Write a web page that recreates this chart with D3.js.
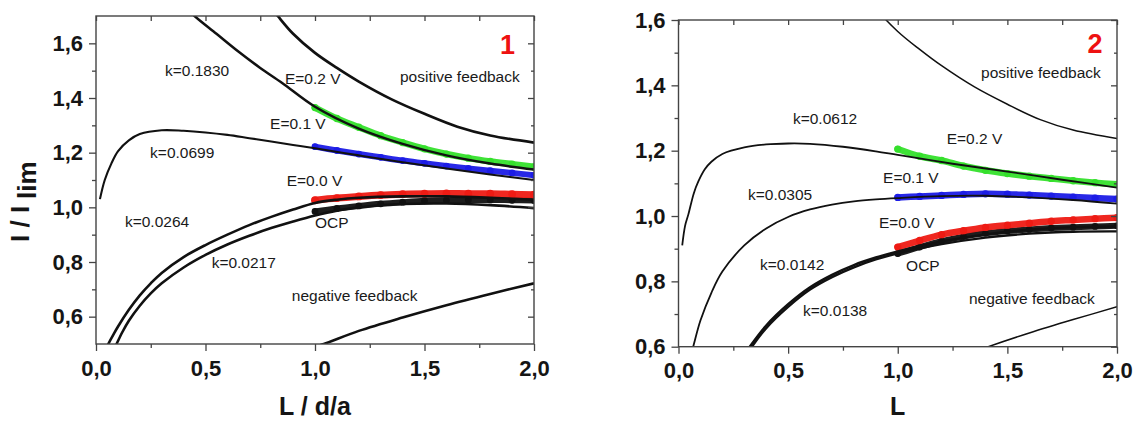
<!DOCTYPE html>
<html><head><meta charset="utf-8">
<script src="https://cdn.jsdelivr.net/npm/d3@7"></script>
<style>
body{margin:0;background:#fff}
svg{display:block}
text{font-family:"Liberation Sans",Arial,sans-serif}
</style>
</head><body>
<svg id="c" width="1142" height="422"></svg>
<script>
// ---------- data ----------
const xMajor = [0, 0.5, 1.0, 1.5, 2.0];
const xMinor = [0.25, 0.75, 1.25, 1.75];
const yMajor1 = [0.6, 0.8, 1.0, 1.2, 1.4, 1.6];
const yMinor1 = [0.7, 0.9, 1.1, 1.3, 1.5];
const yMajor2 = [0.6, 0.8, 1.0, 1.2, 1.4, 1.6];
const yMinor2 = [0.7, 0.9, 1.1, 1.3, 1.5];

// theory curves [L, I/Ilim]
const posFeedback = [[0.78,1.75],[0.83,1.70],[0.9,1.635],[1.0,1.565],[1.1,1.51],[1.2,1.46],[1.35,1.395],[1.5,1.342],[1.65,1.295],[1.8,1.263],[2.0,1.237]];
const negFeedback = [[1.0,0.49],[1.04,0.50],[1.2,0.548],[1.4,0.597],[1.6,0.642],[1.8,0.683],[2.0,0.722]];

const k1830 = [[0.40,1.74],[0.45,1.70],[0.55,1.635],[0.65,1.57],[0.75,1.51],[0.85,1.455],[1.0,1.368],[1.2,1.288],[1.4,1.232],[1.6,1.19],[1.8,1.16],[2.0,1.138]];
const k0699 = [[0.018,1.03],[0.04,1.10],[0.07,1.16],[0.1,1.205],[0.15,1.245],[0.2,1.268],[0.3,1.282],[0.4,1.28],[0.5,1.274],[0.6,1.265],[0.7,1.253],[0.8,1.241],[0.9,1.228],[1.0,1.216],[1.2,1.19],[1.4,1.165],[1.6,1.142],[1.8,1.12],[2.0,1.10]];
const k0264 = [[0.045,0.483],[0.056,0.50],[0.08,0.535],[0.1,0.563],[0.15,0.625],[0.2,0.678],[0.25,0.722],[0.3,0.76],[0.4,0.818],[0.5,0.862],[0.6,0.90],[0.7,0.935],[0.8,0.965],[0.9,0.992],[1.0,1.016],[1.1,1.028],[1.2,1.035],[1.4,1.04],[1.6,1.04],[1.8,1.035],[2.0,1.028]];
const k0217 = [[0.085,0.485],[0.094,0.50],[0.12,0.543],[0.15,0.585],[0.2,0.64],[0.25,0.685],[0.3,0.722],[0.4,0.78],[0.5,0.826],[0.6,0.864],[0.7,0.896],[0.8,0.924],[0.9,0.948],[1.0,0.97],[1.1,0.988],[1.2,1.0],[1.4,1.012],[1.6,1.014],[1.8,1.008],[2.0,0.997]];

const k0612 = [[0.017,0.91],[0.03,0.97],[0.045,1.005],[0.07,1.07],[0.09,1.105],[0.12,1.143],[0.15,1.166],[0.2,1.19],[0.3,1.21],[0.4,1.219],[0.5,1.222],[0.6,1.221],[0.75,1.212],[0.9,1.198],[1.0,1.187],[1.25,1.16],[1.5,1.136],[1.75,1.111],[2.0,1.087]];
const k0305 = [[0.06,0.585],[0.067,0.60],[0.1,0.68],[0.15,0.765],[0.2,0.83],[0.3,0.91],[0.4,0.962],[0.5,0.997],[0.6,1.02],[0.7,1.035],[0.8,1.045],[0.9,1.051],[1.0,1.055],[1.2,1.061],[1.4,1.062],[1.6,1.057],[1.8,1.049],[2.0,1.038]];
const k0142 = [[0.32,0.595],[0.325,0.60],[0.4,0.665],[0.5,0.73],[0.6,0.782],[0.7,0.82],[0.8,0.85],[0.9,0.873],[1.0,0.892],[1.2,0.922],[1.4,0.944],[1.6,0.958],[1.8,0.966],[2.0,0.968]];
const k0138 = [[0.33,0.595],[0.335,0.60],[0.4,0.657],[0.5,0.722],[0.6,0.775],[0.7,0.813],[0.8,0.843],[0.9,0.867],[1.0,0.886],[1.2,0.914],[1.4,0.934],[1.6,0.946],[1.8,0.952],[2.0,0.953]];

// measured data, L = 1.0 ... 2.0 step 0.1
const bandL = [1.0,1.1,1.2,1.3,1.4,1.5,1.6,1.7,1.8,1.9,2.0];
const green1 = [1.365,1.325,1.293,1.262,1.237,1.214,1.195,1.18,1.168,1.158,1.148];
const blue1  = [1.222,1.208,1.195,1.183,1.171,1.161,1.151,1.142,1.134,1.126,1.117];
const red1   = [1.026,1.034,1.04,1.045,1.048,1.05,1.051,1.05,1.05,1.048,1.046];
const black1 = [0.985,0.996,1.005,1.013,1.019,1.024,1.026,1.027,1.027,1.026,1.025];
const green2 = [1.205,1.183,1.17,1.153,1.14,1.13,1.122,1.115,1.108,1.102,1.097];
const blue2  = [1.057,1.06,1.063,1.066,1.068,1.067,1.064,1.061,1.058,1.055,1.052];
const red2   = [0.905,0.925,0.943,0.955,0.965,0.972,0.978,0.984,0.988,0.992,0.995];
const black2 = [0.885,0.905,0.923,0.937,0.947,0.954,0.959,0.963,0.966,0.968,0.970];

// annotations [L, I, text]
const notes1 = [[0.315,1.502,"k=0.1830"],[0.863,1.472,"E=0.2 V"],[1.388,1.480,"positive feedback"],[0.795,1.307,"E=0.1 V"],[0.247,1.200,"k=0.0699"],[0.871,1.100,"E=0.0 V"],[0.132,0.947,"k=0.0264"],[1.0,0.944,"OCP"],[0.528,0.799,"k=0.0217"],[0.894,0.677,"negative feedback"]];
const notes2 = [[1.380,1.440,"positive feedback"],[0.522,1.299,"k=0.0612"],[1.223,1.236,"E=0.2 V"],[0.933,1.119,"E=0.1 V"],[0.317,1.066,"k=0.0305"],[0.914,0.981,"E=0.0 V"],[0.372,0.852,"k=0.0142"],[1.038,0.850,"OCP"],[1.325,0.748,"negative feedback"],[0.568,0.710,"k=0.0138"]];

// ---------- drawing ----------
const svg = d3.select("#c");
const fmt = d => d3.format(".1f")(d).replace(".", ",");
const COLORS = {green:"#35e02c", blue:"#1c1ce6", red:"#ee1b14", black:"#111111"};

function panel(cfg){
  const x = d3.scaleLinear().domain([0,2]).range([cfg.x0, cfg.x1]);
  const y = d3.scaleLinear().domain(cfg.yDom).range([cfg.yb, cfg.yt]);
  const g = svg.append("g");
  const cid = "clip" + cfg.id;
  g.append("clipPath").attr("id", cid).append("rect")
    .attr("x", cfg.x0).attr("y", cfg.yt).attr("width", cfg.x1-cfg.x0).attr("height", cfg.yb-cfg.yt);
  const plot = g.append("g").attr("clip-path", `url(#${cid})`);
  const line = d3.line().x(d=>x(d[0])).y(d=>y(d[1])).curve(d3.curveCatmullRom.alpha(0.5));

  cfg.bands.forEach(b=>{
    const pts = bandL.map((L,i)=>[L, b.v[i]]);
    plot.append("path").attr("d", line(pts)).attr("fill","none")
      .attr("stroke", b.c).attr("stroke-width", b.w).attr("stroke-linecap","round").attr("opacity",0.95);
    plot.selectAll(null).data(pts).enter().append("circle")
      .attr("cx", d=>x(d[0])).attr("cy", d=>y(d[1])).attr("r", b.w/2+0.4).attr("fill", b.c);
  });
  cfg.curves.forEach(c=>{
    plot.append("path").attr("d", line(c.d)).attr("fill","none")
      .attr("stroke","#111").attr("stroke-width", c.w).attr("stroke-linejoin","round");
  });

  // frame
  g.append("rect").attr("x", cfg.x0).attr("y", cfg.yt).attr("width", cfg.x1-cfg.x0).attr("height", cfg.yb-cfg.yt)
    .attr("fill","none").attr("stroke","#444").attr("stroke-width",1.4);

  const style = (sel) => {
    sel.select(".domain").remove();
    sel.selectAll(".tick line").attr("stroke","#444").attr("stroke-width",1.3);
    sel.selectAll(".tick text").attr("font-size", 22).attr("font-weight","bold").attr("fill","#151515")
      .attr("font-family",'"Liberation Sans",Arial,sans-serif');
  };
  g.append("g").attr("transform",`translate(0,${cfg.yb})`)
    .call(d3.axisBottom(x).tickValues(xMajor).tickSize(7).tickPadding(9).tickFormat(fmt)).call(style);
  g.append("g").attr("transform",`translate(0,${cfg.yb})`)
    .call(d3.axisBottom(x).tickValues(xMinor).tickSize(4).tickFormat("")).call(style);
  g.append("g").attr("transform",`translate(0,${cfg.yt})`)
    .call(d3.axisTop(x).tickValues(xMajor.concat(xMinor)).tickSize(-5).tickFormat("")).call(style);
  g.append("g").attr("transform",`translate(${cfg.x0},0)`)
    .call(d3.axisLeft(y).tickValues(cfg.yMajor).tickSize(7).tickPadding(6).tickFormat(fmt)).call(style);
  g.append("g").attr("transform",`translate(${cfg.x0},0)`)
    .call(d3.axisLeft(y).tickValues(cfg.yMinor).tickSize(4).tickFormat("")).call(style);
  g.append("g").attr("transform",`translate(${cfg.x1},0)`)
    .call(d3.axisRight(y).tickValues(cfg.yMajor).tickSize(-6).tickFormat("")).call(style);
  g.append("g").attr("transform",`translate(${cfg.x1},0)`)
    .call(d3.axisRight(y).tickValues(cfg.yMinor).tickSize(-3).tickFormat("")).call(style);

  // annotations
  g.selectAll(null).data(cfg.notes).enter().append("text")
    .attr("x", d=>x(d[0])).attr("y", d=>y(d[1])).attr("dy","0.36em")
    .attr("font-size", 15.5).attr("fill","#1a1a1a").text(d=>d[2]);
  g.append("text").attr("x", x(cfg.num[0])).attr("y", y(cfg.num[1])).attr("dy","0.36em")
    .attr("text-anchor","middle").attr("font-size", 27).attr("font-weight","bold")
    .attr("fill","#ee1111").text(cfg.num[2]);

  // x title
  g.append("text").attr("x", x(1)).attr("y", 415).attr("text-anchor","middle")
    .attr("font-size", 25).attr("font-weight","bold").attr("fill","#151515").text(cfg.xTitle);
  return {x, y, g};
}

const p1 = panel({
  id:1, x0:96, x1:534, yt:16, yb:344, yDom:[0.5,1.7],
  yMajor:yMajor1, yMinor:yMinor1, xTitle:"L / d/a", num:[1.879,1.598,"1"],
  bands:[{v:black1,c:COLORS.black,w:6},{v:red1,c:COLORS.red,w:7},{v:blue1,c:COLORS.blue,w:6},{v:green1,c:COLORS.green,w:6.5}],
  curves:[{d:posFeedback,w:2.7},{d:k1830,w:2.5},{d:k0699,w:2.1},{d:k0264,w:2.6},{d:k0217,w:2.6},{d:negFeedback,w:2.6}],
  notes:notes1
});
const p2 = panel({
  id:2, x0:678.5, x1:1117, yt:20, yb:346.7, yDom:[0.6,1.6],
  yMajor:yMajor2, yMinor:yMinor2, xTitle:"L", num:[1.900,1.530,"2"],
  bands:[{v:black2,c:COLORS.black,w:6},{v:red2,c:COLORS.red,w:6.5},{v:blue2,c:COLORS.blue,w:6.5},{v:green2,c:COLORS.green,w:6.5}],
  curves:[{d:posFeedback,w:1.5},{d:k0612,w:1.8},{d:k0305,w:1.8},{d:k0142,w:2.4},{d:k0138,w:2.4},{d:negFeedback,w:1.5}],
  notes:notes2
});

// y title panel 1
const yt = svg.append("text").attr("transform","translate(29,242) rotate(-90)")
  .attr("font-size",26).attr("font-weight","bold").attr("fill","#151515");
yt.append("tspan").text("I / I");
yt.append("tspan").attr("dx",7).attr("dy",7).text("lim");
</script>
</body></html>
